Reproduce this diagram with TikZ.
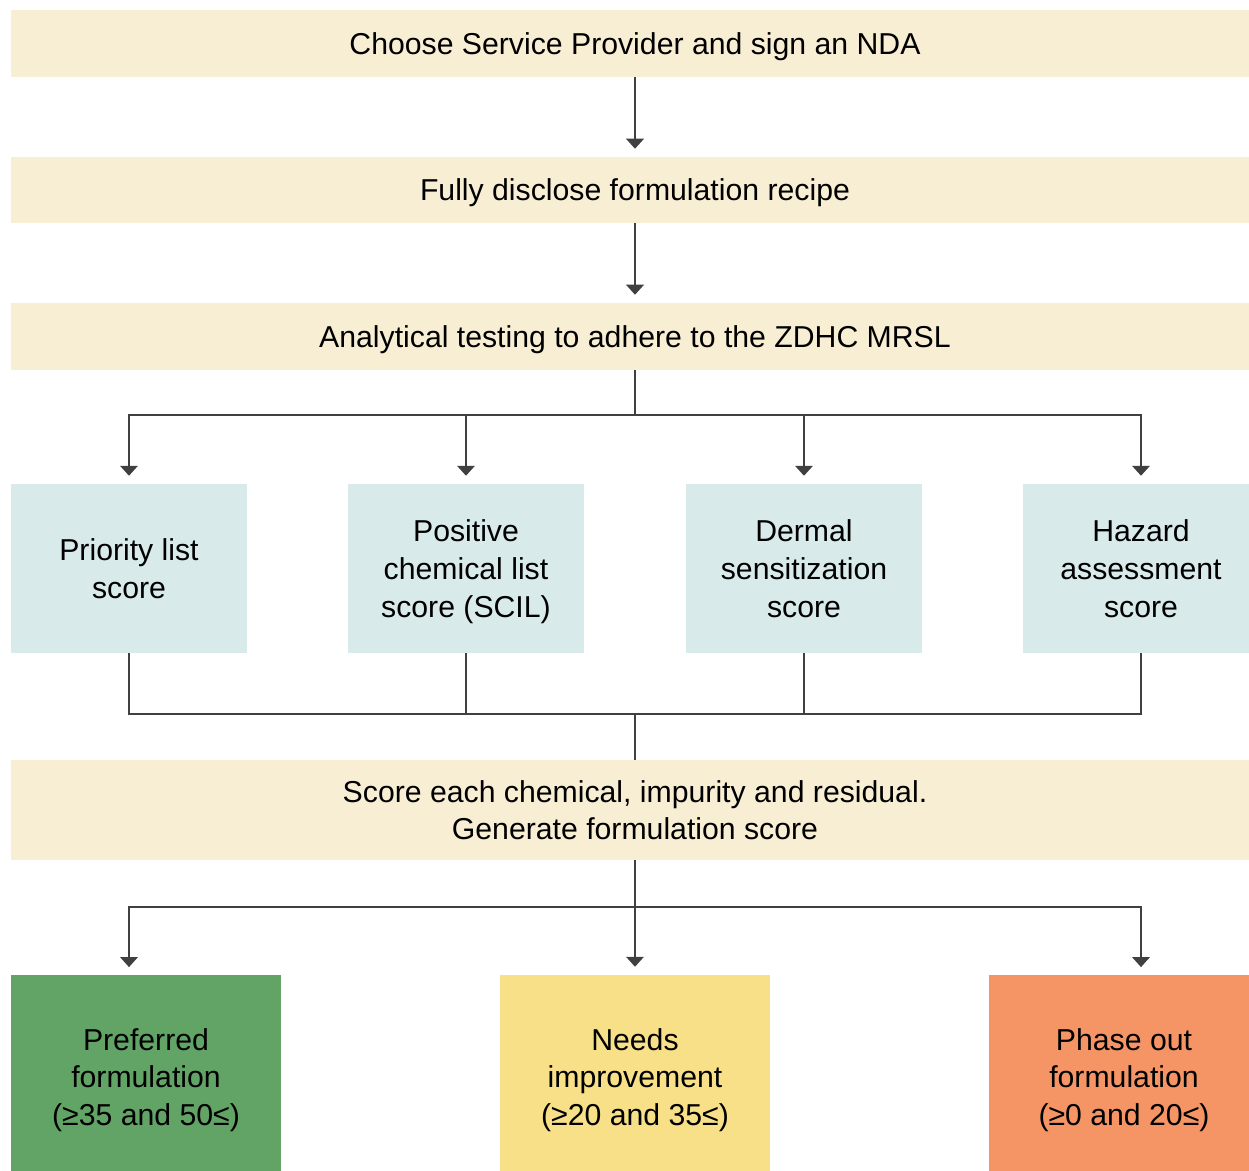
\documentclass[tikz,border=0pt]{standalone}
\usepackage{fontspec}
\setmainfont{Liberation Sans}
\usetikzlibrary{arrows.meta}
\definecolor{beige}{HTML}{F7EED3}
\definecolor{lblue}{HTML}{D9EAEA}
\definecolor{pgreen}{HTML}{62A466}
\definecolor{pyellow}{HTML}{F7E087}
\definecolor{porange}{HTML}{F59566}
\definecolor{lncol}{HTML}{404040}
\tikzset{
  txt/.style={inner sep=0pt, align=center, text depth=0pt, font=\fontsize{17.2}{21.4}\selectfont},
  wide/.style={txt, fill=beige, minimum width=24.96cm},
  score/.style={txt, fill=lblue, minimum width=4.72cm, minimum height=3.38cm},
  result/.style={txt, minimum width=5.4cm, minimum height=4.08cm},
  conn/.style={draw=lncol, line width=1.1pt},
  arr/.style={conn, -{Triangle[width=10pt,length=5.7pt]}, shorten >=4.5pt}
}
\begin{document}
\begin{tikzpicture}[x=0.02cm, y=-0.02cm]
\useasboundingbox (0,0) rectangle (1249,1171);
\clip (0,0) rectangle (1249,1171);
\fill[white] (0,0) rectangle (1249,1171);
\node[wide, minimum height=1.34cm] (b1) at (635,43.5) {Choose Service Provider and sign an NDA};
\node[wide, minimum height=1.32cm] (b2) at (635,190) {Fully disclose formulation recipe};
\node[wide, minimum height=1.34cm] (b3) at (635,336.5) {Analytical testing to adhere to the ZDHC MRSL};
\node[score] (p1) at (129,568.5) {Priority list\\score};
\node[score] (p2) at (466,568.5) {Positive\\chemical list\\score (SCIL)};
\node[score] (p3) at (804,568.5) {Dermal\\sensitization\\score};
\node[score] (p4) at (1141,568.5) {Hazard\\assessment\\score};
\node[wide, minimum height=2.0cm] (b5) at (635,810) {Score each chemical, impurity and residual.\\Generate formulation score};
\node[result, fill=pgreen] (r1) at (146,1077) {Preferred\\formulation\\(≥35 and 50≤)};
\node[result, fill=pyellow] (r2) at (635,1077) {Needs\\improvement\\(≥20 and 35≤)};
\node[result, fill=porange] (r3) at (1124,1077) {Phase out\\formulation\\(≥0 and 20≤)};
\coordinate (br1) at (635,415);
\coordinate (mg) at (635,714);
\coordinate (br2) at (635,907);
\draw[arr] (b1.south) -- (b2.north);
\draw[arr] (b2.south) -- (b3.north);
\draw[conn] (b3.south) -- (br1);
\draw[arr] (br1) -| (p1.north);
\draw[arr] (br1) -| (p2.north);
\draw[arr] (br1) -| (p3.north);
\draw[arr] (br1) -| (p4.north);
\draw[conn] (p1.south) |- (mg);
\draw[conn] (p2.south) |- (mg);
\draw[conn] (p3.south) |- (mg);
\draw[conn] (p4.south) |- (mg);
\draw[conn] (mg) -- (b5.north);
\draw[conn] (b5.south) -- (br2);
\draw[arr] (br2) -| (129,975);
\draw[arr] (br2) -- (r2.north);
\draw[arr] (br2) -| (1141,975);
\end{tikzpicture}
\end{document}
